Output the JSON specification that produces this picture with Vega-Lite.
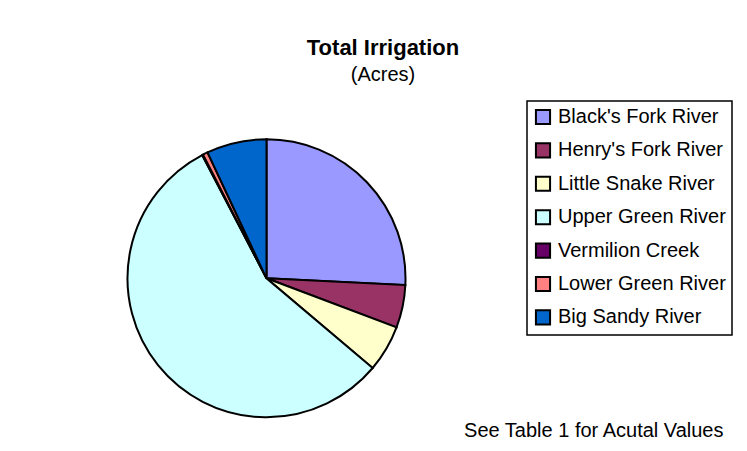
{
  "$schema": "https://vega.github.io/schema/vega-lite/v6.json",
  "width": 278,
  "height": 278,
  "autosize": {"type": "none"},
  "padding": {"left": 127.5, "top": 139.3, "right": 341.5, "bottom": 33.7},
  "background": "white",
  "config": {
    "view": {"stroke": null},
    "font": "Liberation Sans",
    "legend": {"strokeWidth": 1.5}
  },
  "title": {
    "text": "Total Irrigation",
    "subtitle": "(Acres)",
    "font": "Liberation Sans",
    "fontSize": 22,
    "fontWeight": "bold",
    "color": "black",
    "subtitleFont": "Liberation Sans",
    "subtitleFontSize": 20,
    "subtitleColor": "black",
    "subtitlePadding": 5,
    "anchor": "middle",
    "frame": "group",
    "dx": 116.5,
    "offset": 14
  },
  "data": {
    "values": [
      {"basin": "Black's Fork River", "acres": 85070},
      {"basin": "Henry's Fork River", "acres": 16410},
      {"basin": "Little Snake River", "acres": 17875},
      {"basin": "Upper Green River", "acres": 185400},
      {"basin": "Vermilion Creek", "acres": 370},
      {"basin": "Lower Green River", "acres": 1880},
      {"basin": "Big Sandy River", "acres": 23010}
    ]
  },
  "transform": [{"window": [{"op": "row_number", "as": "idx"}]}],
  "layer": [
    {
      "mark": {"type": "arc", "stroke": "black", "strokeWidth": 2, "outerRadius": 139},
      "encoding": {
        "theta": {"field": "acres", "type": "quantitative", "stack": true},
        "order": {"field": "idx", "type": "quantitative"},
        "color": {
          "field": "basin",
          "type": "nominal",
          "sort": null,
          "scale": {
            "domain": ["Black's Fork River", "Henry's Fork River", "Little Snake River", "Upper Green River", "Vermilion Creek", "Lower Green River", "Big Sandy River"],
            "range": ["#9999FF", "#993366", "#FFFFCC", "#CCFFFF", "#660066", "#FF8080", "#0066CC"]
          },
          "legend": {
            "title": null,
            "orient": "none",
            "legendX": 399.5,
            "legendY": -38.3,
            "symbolType": "square",
            "symbolSize": 200,
            "symbolStrokeColor": "black",
            "symbolStrokeWidth": 2,
            "symbolOpacity": 1,
            "labelFont": "Liberation Sans",
            "labelFontSize": 20,
            "labelColor": "black",
            "labelOffset": 5,
            "labelLimit": 300,
            "rowPadding": 9.4,
            "padding": 6,
            "strokeColor": "black",
            "fillColor": "white"
          }
        }
      }
    },
    {
      "mark": {"type": "point", "opacity": 0},
      "encoding": {
        "x": {
          "datum": 0,
          "type": "quantitative",
          "axis": {
            "title": "See Table 1 for Acutal Values",
            "domain": false,
            "ticks": false,
            "labels": false,
            "grid": false,
            "titleFont": "Liberation Sans",
            "titleFontSize": 20,
            "titleFontWeight": "normal",
            "titleColor": "black",
            "titleAlign": "right",
            "titleBaseline": "alphabetic",
            "titleX": 595.5,
            "titleY": 19.4
          }
        }
      }
    }
  ]
}
